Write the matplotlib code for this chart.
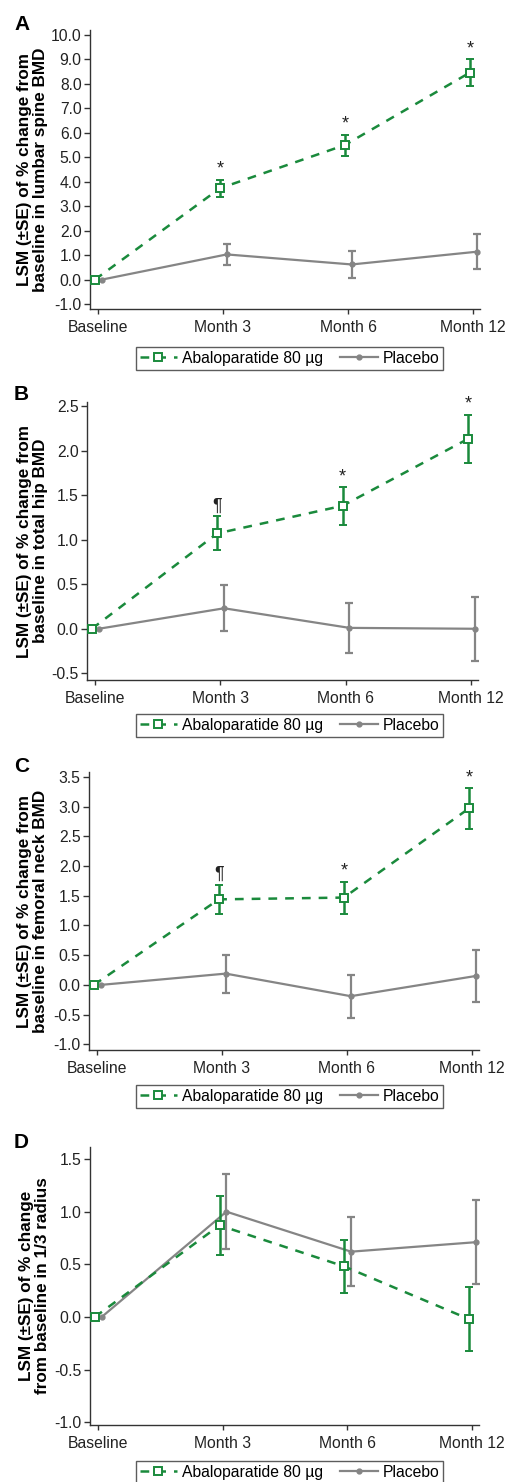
import matplotlib
matplotlib.use("Agg")
import matplotlib.pyplot as plt
import numpy as np

plt.rcParams['font.family'] = ['Liberation Sans', 'DejaVu Sans']
plt.rcParams['axes.unicode_minus'] = False

categories = ["Baseline", "Month 3", "Month 6", "Month 12"]
series_names = ["Abaloparatide 80 µg", "Placebo"]

abalo_A = [0.0, 3.73, 5.50, 8.46]
abalo_A_se = [0.0, 0.34, 0.43, 0.54]
plac_A = [0.0, 1.03, 0.62, 1.14]
plac_A_se = [0.0, 0.43, 0.54, 0.71]
marks_A = ["", "*", "*", "*"]

abalo_B = [0.0, 1.07, 1.38, 2.13]
abalo_B_se = [0.0, 0.19, 0.21, 0.27]
plac_B = [0.0, 0.23, 0.01, 0.0]
plac_B_se = [0.0, 0.26, 0.28, 0.36]
marks_B = ["", "¶", "*", "*"]

abalo_C = [0.0, 1.44, 1.47, 2.97]
abalo_C_se = [0.0, 0.24, 0.27, 0.34]
plac_C = [0.0, 0.19, -0.19, 0.15]
plac_C_se = [0.0, 0.32, 0.36, 0.44]
marks_C = ["", "¶", "*", "*"]

abalo_D = [0.0, 0.87, 0.48, -0.02]
abalo_D_se = [0.0, 0.28, 0.25, 0.30]
plac_D = [0.0, 1.00, 0.62, 0.71]
plac_D_se = [0.0, 0.355, 0.33, 0.40]
marks_D = ["", "", "", ""]

ylabels = [
    "LSM (±SE) of % change from\nbaseline in lumbar spine BMD",
    "LSM (±SE) of % change from\nbaseline in total hip BMD",
    "LSM (±SE) of % change from\nbaseline in femoral neck BMD",
    "LSM (±SE) of % change\nfrom baseline in 1/3 radius",
]
panel_letters = ["A", "B", "C", "D"]

GREEN = "#1a8a3c"
GREY = "#858585"
DARK = "#333333"

W, H = 509, 1482
fig = plt.figure(figsize=(W / 100, H / 100), dpi=100)

# pixel boxes: left, right, top, bottom
boxes = [(90, 480, 30, 309), (87, 478, 402, 680), (89, 479, 772, 1050), (90, 479, 1147, 1425)]
ylims = [(-1.2, 10.2), (-0.575, 2.545), (-1.096, 3.584), (-1.026, 1.614)]
yticks = [np.arange(-1, 10.01, 1.0), np.arange(-0.5, 2.51, 0.5),
          np.arange(-1, 3.51, 0.5), np.arange(-1, 1.51, 0.5)]
letter_y = [25, 394, 766, 1142]
legend_top = [347, 714, 1085, 1461]
label_x_px = [48, 48, 48, 50]

data = [
    (abalo_A, abalo_A_se, plac_A, plac_A_se, marks_A),
    (abalo_B, abalo_B_se, plac_B, plac_B_se, marks_B),
    (abalo_C, abalo_C_se, plac_C, plac_C_se, marks_C),
    (abalo_D, abalo_D_se, plac_D, plac_D_se, marks_D),
]

x = np.arange(len(categories))
for i, (ab, abse, pl, plse, marks) in enumerate(data):
    l, r, t, b = boxes[i]
    ax = fig.add_axes([l / W, (H - b) / H, (r - l) / W, (b - t) / H])
    xg = x - 0.025
    xp = x + 0.03
    ab_arr = np.array(ab); abse_arr = np.array(abse)
    pl_arr = np.array(pl); plse_arr = np.array(plse)
    hp = ax.errorbar(xp, pl_arr, yerr=np.where(plse_arr > 0, plse_arr, np.nan), color=GREY, lw=1.6,
                     marker='o', ms=3.5, elinewidth=1.6, capsize=3, capthick=1.6, zorder=2,
                     label=series_names[1])
    hg = ax.errorbar(xg, ab_arr, yerr=np.where(abse_arr > 0, abse_arr, np.nan), color=GREEN, lw=1.8,
                     ls=(0, (3.5, 3.2)), marker='s', ms=5.5, mfc='white', mec=GREEN, mew=1.4,
                     elinewidth=1.8, capsize=3, capthick=1.8, zorder=3,
                     label=series_names[0])
    for j, m in enumerate(marks):
        if m:
            ax.annotate(m, (xg[j], ab_arr[j] + abse_arr[j]), xytext=(0, 1.5),
                        textcoords='offset points', ha='center', va='bottom',
                        fontsize=13, color='#222222')
    ax.set_xlim(-0.064, 3.056)
    ax.set_ylim(*ylims[i])
    ax.set_xticks(x)
    ax.set_xticklabels(categories)
    ax.set_yticks(yticks[i])
    ax.set_yticklabels([f"{v:.1f}" for v in yticks[i]])
    for s in ['top', 'right']:
        ax.spines[s].set_visible(False)
    for s in ['left', 'bottom']:
        ax.spines[s].set_color(DARK)
        ax.spines[s].set_linewidth(1.0)
    ax.tick_params(axis='y', length=4.5, width=1.0, color=DARK, labelsize=11.3, labelcolor='#222222', pad=1.5)
    ax.tick_params(axis='x', length=3.5, width=1.0, color=DARK, labelsize=11.3, labelcolor='#222222', pad=4.5)
    ax.set_ylabel(ylabels[i], fontsize=12.3, fontweight='bold', linespacing=1.05, color='black')
    ax.yaxis.set_label_coords((label_x_px[i] - l) / (r - l), 0.5)
    fig.text(14 / W, (H - letter_y[i]) / H, panel_letters[i], fontsize=15, fontweight='bold',
             ha='left', va='center')
    leg = fig.legend(handles=[hg[0], hp[0]], labels=series_names, loc='upper center',
                     bbox_to_anchor=(289.5 / W, (H - legend_top[i]) / H), ncol=2,
                     fontsize=11.3, frameon=True, fancybox=False, edgecolor=DARK,
                     handlelength=2.4, handletextpad=0.3, columnspacing=1.1,
                     borderpad=0.25, borderaxespad=0)
    leg.get_frame().set_linewidth(1.0)

fig.savefig("out.png", dpi=100)
